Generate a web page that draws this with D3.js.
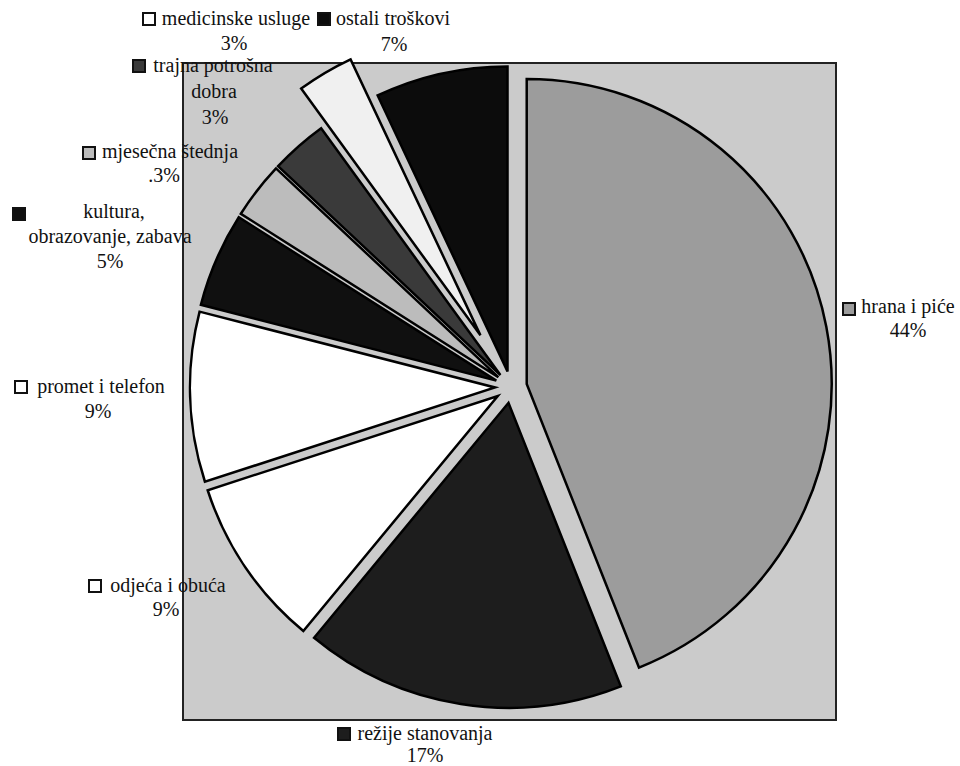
<!DOCTYPE html>
<html>
<head>
<meta charset="utf-8">
<script src="https://cdn.jsdelivr.net/npm/d3@7"></script>
<style>
	body { margin: 0; background: #fff; }
</style>
</head>
<body>
<svg id="chart" width="960" height="766"></svg>
<script>
'use strict';

// share of the household budget, clockwise from 12 o'clock
const categories = ['hrana i piće', 'režije stanovanja', 'odjeća i obuća', 'promet i telefon',
	'kultura, obrazovanje, zabava', 'mjesečna štednja', 'trajna potrošna dobra',
	'medicinske usluge', 'ostali troškovi'];
const values = [44, 17, 9, 9, 5, 3, 3, 3, 7];
const percentLabels = ['44%', '17%', '9%', '9%', '5%', '.3%', '3%', '3%', '7%'];
// how the category names are broken over lines in the labels
const labelLines = [
	['hrana i piće'], ['režije stanovanja'], ['odjeća i obuća'], ['promet i telefon'],
	['kultura,', 'obrazovanje, zabava'], ['mjesečna štednja'], ['trajna potrošna', 'dobra'],
	['medicinske usluge'], ['ostali troškovi']
];

const fills = ['#9c9c9c', '#1d1d1d', '#ffffff', '#ffffff', '#101010', '#bcbcbc', '#3a3a3a', '#f0f0f0', '#0c0c0c'];
const pull = [16, 16, 16, 16, 16, 16, 16, 60, 16];

// label placement: key square (top-left) and centre/baseline of each text line
const labelPos = [
	{key: [842, 302], lines: [[908, 313], [908, 337]]},
	{key: [337, 727], lines: [[425, 740], [425, 762]]},
	{key: [88, 579], lines: [[168, 592], [166, 616]]},
	{key: [14, 380], lines: [[101, 393], [98, 418]]},
	{key: [12, 207], lines: [[114, 218], [110, 243], [110, 268]]},
	{key: [82, 146], lines: [[170, 158], [164, 182]]},
	{key: [132, 59], lines: [[213, 72], [214, 98], [215, 124]]},
	{key: [142, 12], lines: [[236, 25], [234, 50]]},
	{key: [317, 12], lines: [[393, 25], [394, 51]]}
];

const plot = {x: 183, y: 63, w: 653, h: 657};
const center = {x: 511, y: 387};
const radius = 305;

const $svg = d3.select('#chart');

// plot area
$svg.append('rect')
	.attr('x', plot.x).attr('y', plot.y)
	.attr('width', plot.w).attr('height', plot.h)
	.attr('fill', '#cbcbcb')
	.attr('stroke', '#222')
	.attr('stroke-width', 2)
;

const pie = d3.pie()
	.sort(null)
	.value(d => d)
;

const arc = d3.arc()
	.innerRadius(0)
	.outerRadius(radius)
;

const $g = $svg.append('g')
	.attr('transform', 'translate(' + center.x + ',' + center.y + ')')
;

$g.selectAll('path')
	.data(pie(values))
	.join('path')
	.attr('d', arc)
	.attr('fill', (d, i) => fills[i])
	.attr('stroke', '#000')
	.attr('stroke-width', 2.5)
	.attr('stroke-linejoin', 'miter')
	.attr('transform', (d, i) => {
		const a = (d.startAngle + d.endAngle) / 2;
		return 'translate(' + (pull[i] * Math.sin(a)) + ',' + (-pull[i] * Math.cos(a)) + ')';
	})
;

// labels
const $labels = $svg.append('g');

labelPos.forEach((p, i) => {
	$labels.append('rect')
		.attr('x', p.key[0] + 1).attr('y', p.key[1] + 1)
		.attr('width', 12).attr('height', 12)
		.attr('fill', fills[i] === '#ffffff' || fills[i] === '#f0f0f0' ? '#fff' : fills[i])
		.attr('stroke', '#111')
		.attr('stroke-width', 2)
	;
	const lines = labelLines[i].concat([percentLabels[i]]);
	lines.forEach((t, j) => {
		$labels.append('text')
			.attr('x', p.lines[j][0])
			.attr('y', p.lines[j][1])
			.attr('text-anchor', 'middle')
			.attr('font-family', 'Liberation Serif')
			.attr('font-size', 20)
			.attr('fill', '#111')
			.text(t)
		;
	});
});
</script>
</body>
</html>
